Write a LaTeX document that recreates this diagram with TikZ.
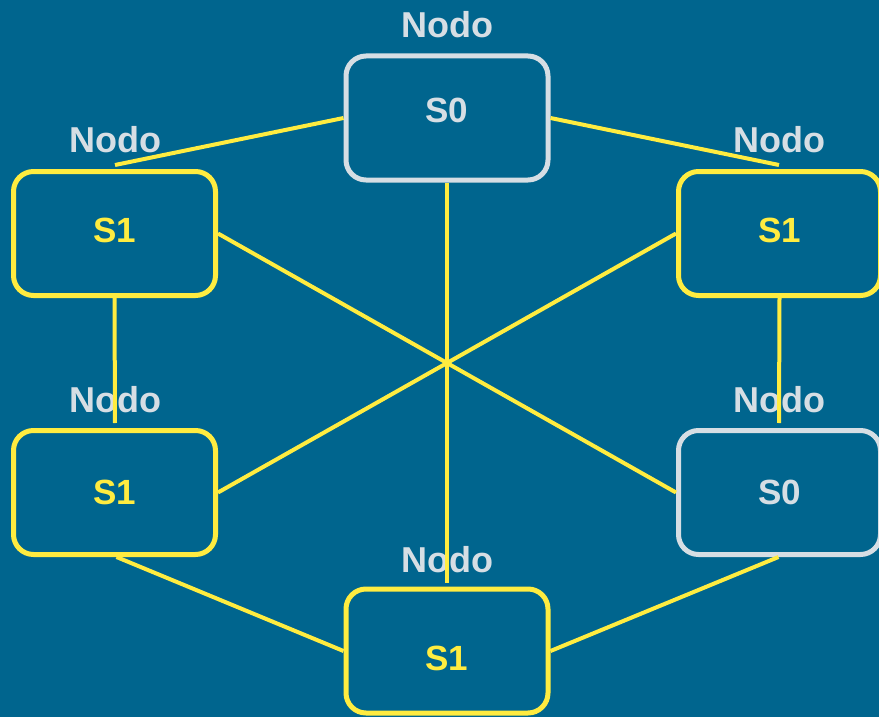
\documentclass[tikz,border=0pt]{standalone}
\usepackage{fontspec}
\setmainfont{Liberation Sans}
\definecolor{bg}{RGB}{0,101,142}
\definecolor{ylw}{RGB}{255,236,64}
\definecolor{gry}{RGB}{214,222,228}
\begin{document}
\begin{tikzpicture}[x=1pt,y=-1pt,
  box/.style={draw,line width=5pt,rounded corners=20pt,minimum width=202pt,minimum height=124pt,
    fill=bg,inner sep=0pt},
  ybox/.style={box,draw=ylw},
  gbox/.style={box,draw=gry},
  btxt/.style={inner sep=0pt,font=\fontsize{35}{40}\selectfont\bfseries},
  ytxt/.style={btxt,text=ylw},
  gtxt/.style={btxt,text=gry},
  lbl/.style={text=gry,inner sep=0pt,font=\fontsize{36}{40}\selectfont\bfseries},
  conn/.style={draw=ylw,line width=4pt}]
\fill[bg] (0,0) rectangle (879,717);
\useasboundingbox (0,0) rectangle (879,717);
% labels
\node[lbl] (ltop) at (447,25) {Nodo};
\node[lbl] (lul) at (115,140) {Nodo};
\node[lbl] (lur) at (779,140) {Nodo};
\node[lbl] (lll) at (115,400) {Nodo};
\node[lbl] (llr) at (779,400) {Nodo};
\node[lbl] (lbot) at (447,560) {Nodo};
% boxes
\node[gbox] (top) at (447,118) {};
\node[ybox] (ul) at (114.5,233.5) {};
\node[ybox] (ur) at (779.5,233.5) {};
\node[ybox] (ll) at (114.5,492.5) {};
\node[gbox] (lr) at (779.5,492.5) {};
\node[ybox] (bot) at (447,651) {};
% box texts
\node[gtxt] (ttop) at ([yshift=8pt]top.center) {S0};
\node[ytxt] (tul) at ([yshift=3pt]ul.center) {S1};
\node[ytxt] (tur) at ([yshift=3pt]ur.center) {S1};
\node[ytxt] (tll) at (ll.center) {S1};
\node[gtxt] (tlr) at (lr.center) {S0};
\node[ytxt] (tbot) at ([yshift=-7pt]bot.center) {S1};
% free ends
\coordinate (cul) at (115,165);
\coordinate (cur) at (779,165);
\coordinate (cll) at (115,423);
\coordinate (clr) at (779,423);
\coordinate (cbot) at (447,583);
% connectors
\draw[conn] (top.west) -- (cul);
\draw[conn] (top.east) -- (cur);
\draw[conn] (ul.east) -- (lr.west);
\draw[conn] (ur.west) -- (ll.east);
\draw[conn] (top.south) -- (cbot);
\draw[conn] (ul.south) -- (cll);
\draw[conn] (ur.south) -- (clr);
\draw[conn] ([xshift=2pt]ll.south) -- (bot.west);
\draw[conn] ([xshift=-1pt]lr.south) -- (bot.east);
\end{tikzpicture}
\end{document}
